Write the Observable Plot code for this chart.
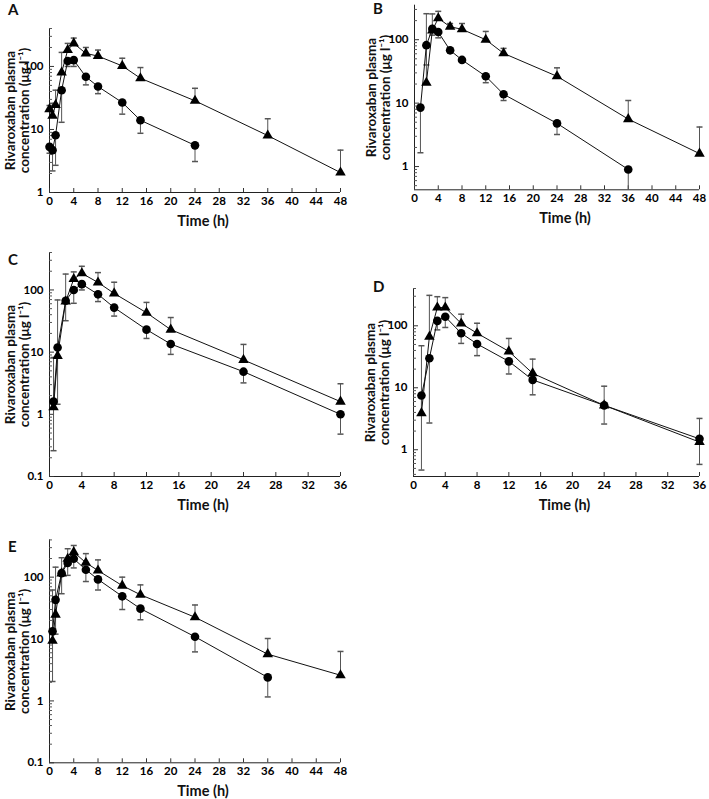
<!DOCTYPE html>
<html>
<head>
<meta charset="utf-8">
<script src="https://cdn.jsdelivr.net/npm/d3@7"></script>
<script src="https://cdn.jsdelivr.net/npm/@observablehq/plot@0.6"></script>
<style>
  body { margin: 0; background: #fff; }
  #wrap { position: relative; width: 709px; height: 799px; background: #fff; overflow: hidden; }
  .plt { position: absolute; }
  .lbl { position: absolute; font: bold 15px Lato, "Open Sans", sans-serif; color: #111; }
</style>
</head>
<body>
<div id="wrap"></div>
<script>
// ---------- Data (times in h, concentrations in µg/l) ----------
// Panel A
const tTriA = [0, 0.5, 1, 2, 3, 4, 6, 8, 12, 15, 24, 36, 48];
const vTriA = [21, 16.5, 24.5, 80, 182, 232, 161, 146, 102, 65, 28.5, 8.0, 2.07];
const eTriA = [24, 26, 42, 167, 232, 282, 200, 182, 135, 96, 45, 14.8, 4.7];
const tCircA = [0, 0.5, 1, 2, 3, 4, 6, 8, 12, 15, 24];
const vCircA = [5.3, 4.7, 8.1, 42, 122, 126, 68.5, 48, 26.8, 14, 5.6];
const eCircA = [4.2, 2.2, 2.7, 13, 100, 100, 51, 37, 17.5, 8.7, 3.1];
// Panel B
const tTriB = [2, 3, 4, 6, 8, 12, 15, 24, 36, 48];
const vTriB = [21, 140, 218, 160, 146, 100, 61, 26.5, 5.6, 1.6];
const eTriB = [257, 255, 280, 180, 180, 135, 73, 36, 11, 4.2];
const tCircB = [1, 2, 3, 4, 6, 8, 12, 15, 24, 36];
const vCircB = [8.5, 82, 148, 132, 68, 48, 26.5, 13.8, 4.8, 0.9];
const eCircB = [1.65, 40, 118, 107, 62, 44, 21, 11, 3.2, 0.43];
// Panel C
const tTriC = [0.5, 1, 2, 3, 4, 6, 8, 12, 15, 24, 36];
const vTriC = [1.3, 8.7, 65, 150, 185, 132, 88, 43, 23, 7.5, 1.6];
const eTriC = [8.2, 69, 180, 195, 240, 190, 133, 63, 36, 13.3, 3.1];
const tCircC = [0.5, 1, 2, 3, 4, 6, 8, 12, 15, 24, 36];
const vCircC = [1.6, 11.9, 67, 100, 124, 85, 52, 23, 13.5, 4.85, 1.0];
const eCircC = [0.26, 1.45, 32, 61, 100, 65, 38, 16.6, 9.2, 3.2, 0.48];
// Panel D
const tTriD = [1, 2, 3, 4, 6, 8, 12, 15, 24, 36];
const vTriD = [3.9, 66.5, 197, 197, 109, 76, 38.7, 17.1, 5.2, 1.33];
const eTriD = [47.7, 310, 295, 285, 154, 110, 62.5, 29, 10.6, 3.2];
const tCircD = [1, 2, 3, 4, 6, 8, 12, 15, 24, 36];
const vCircD = [7.5, 30, 120, 140, 76, 51, 26.7, 13.4, 5.2, 1.5];
const eCircD = [0.47, 2.7, 86, 94, 52, 33, 16.7, 7.7, 2.6, 0.58];
// Panel E
const tTriE = [0.5, 1, 2, 3, 4, 6, 8, 12, 15, 24, 36, 48];
const vTriE = [9.4, 24.8, 115, 198, 254, 171, 128, 73, 52, 22.5, 5.7, 2.6];
const eTriE = [62, 145, 206, 288, 325, 240, 190, 100, 75, 35.5, 10.2, 6.3];
const tCircE = [0.5, 1, 2, 3, 4, 6, 8, 12, 15, 24, 36];
const vCircE = [13.3, 43, 116, 169, 198, 132, 92, 49, 31, 10.9, 2.4];
const eCircE = [2.06, 12, 54, 107, 141, 85, 62, 30, 20.5, 6.2, 1.16];

const yLabel = "Rivaroxaban plasma\nconcentration (μg l⁻¹)";
const xLabel = "Time (h)";
const FONT = "Lato, 'Open Sans', sans-serif";

const capSymbol = {
  draw(context, size) {
    const w = Math.sqrt(size / Math.PI);
    context.moveTo(-w, 0);
    context.lineTo(w, 0);
  }
};

function panel(o) {
  const innerW = o.width - o.mL - o.mR;
  const innerH = o.height - o.mT - o.mB;
  const tri = o.tTri.map((t, i) => ({t, v: o.vTri[i], e: o.eTri[i]}));
  const circ = o.tCirc.map((t, i) => ({t, v: o.vCirc[i], e: o.eCirc[i]}));
  const xticks = d3.range(0, o.xmax + 1, 4);
  const [y0, y1] = o.ydomain;
  const minor = [];
  for (let d = Math.floor(Math.log10(y0)); d <= Math.ceil(Math.log10(y1)); d++) {
    for (let m = 2; m <= 9; m++) {
      const v = m * Math.pow(10, d);
      if (v >= y0 * 0.999 && v <= y1 * 1.001) minor.push(v);
    }
  }
  const errStroke = "#555";
  const chart = Plot.plot({
    width: o.width, height: o.height,
    marginLeft: o.mL, marginRight: o.mR, marginTop: o.mT, marginBottom: o.mB,
    style: {fontFamily: FONT, background: "transparent", overflow: "visible"},
    x: {domain: [0, o.xmax]},
    y: {type: "log", domain: o.ydomain},
    marks: [
      // axis lines
      Plot.ruleX([0], {stroke: "#222", strokeWidth: 1}),
      Plot.ruleY([y0], {stroke: "#222", strokeWidth: 1}),
      // inward ticks
      Plot.tickX(xticks, {x: d => d, insetTop: innerH - 4, stroke: "#333"}),
      Plot.tickY(o.yticks, {y: d => d, insetRight: innerW - 5, stroke: "#333"}),
      Plot.tickY(minor, {y: d => d, insetRight: innerW - 3, stroke: "#555"}),
      // tick labels
      Plot.axisX({ticks: xticks, tickSize: 0, tickPadding: 4, fontSize: 11.5, fontWeight: "bold", label: null}),
      Plot.axisY({ticks: o.yticks, tickSize: 0, tickPadding: 6, fontSize: 11.5, fontWeight: "bold", label: null, tickFormat: d => String(d)}),
      // axis titles
      Plot.text([yLabel], {frameAnchor: "left", rotate: -90, dx: o.ldx, fontSize: 13.5, fontWeight: "bold", lineHeight: 1.02, textAnchor: "middle", lineAnchor: "middle", fill: "#111"}),
      Plot.text([xLabel], {frameAnchor: "bottom", dy: 29, dx: 8, fontSize: 14.5, fontWeight: "bold", lineAnchor: "middle", fill: "#111"}),
      // error bars
      Plot.ruleX(tri, {x: "t", y1: "v", y2: "e", stroke: errStroke, strokeWidth: 1}),
      Plot.dot(tri, {x: "t", y: "e", symbol: capSymbol, r: 3, stroke: errStroke, fill: "none"}),
      Plot.ruleX(circ, {x: "t", y1: "v", y2: "e", stroke: errStroke, strokeWidth: 1}),
      Plot.dot(circ.filter(d => d.e > y0 * 1.001), {x: "t", y: "e", symbol: capSymbol, r: 3, stroke: errStroke, fill: "none"}),
      // lines
      Plot.line(tri, {x: "t", y: "v", stroke: "#111", strokeWidth: 1}),
      Plot.line(circ, {x: "t", y: "v", stroke: "#111", strokeWidth: 1}),
      // markers
      Plot.dot(tri, {x: "t", y: "v", symbol: "triangle", r: 3.9, fill: "#000", stroke: "none"}),
      Plot.dot(circ, {x: "t", y: "v", symbol: "circle", r: 4.3, fill: "#000", stroke: "none"})
    ]
  });
  chart.classList.add("plt");
  chart.style.left = o.left + "px";
  chart.style.top = o.top + "px";
  return chart;
}

const wrap = document.getElementById("wrap");
const panels = [
  {name: "A", lx: 8, ly: 0, left: 0, top: 0, width: 354, height: 230, mL: 49, mR: 14, mT: 28, mB: 38, ldx: -32, xmax: 48, ydomain: [1, 400], yticks: [1, 10, 100],
   tTri: tTriA, vTri: vTriA, eTri: eTriA, tCirc: tCircA, vCirc: vCircA, eCirc: eCircA},
  {name: "B", lx: 373, ly: -1, left: 355, top: 0, width: 354, height: 230, mL: 59, mR: 10, mT: 4.7, mB: 40.7, ldx: -36, xmax: 48, ydomain: [0.43, 350], yticks: [1, 10, 100],
   tTri: tTriB, vTri: vTriB, eTri: eTriB, tCirc: tCircB, vCirc: vCircB, eCirc: eCircB},
  {name: "C", lx: 8, ly: 250, left: 0, top: 245, width: 354, height: 270, mL: 49, mR: 14, mT: 7, mB: 39, ldx: -32, xmax: 36, ydomain: [0.1, 400], yticks: [0.1, 1, 10, 100],
   tTri: tTriC, vTri: vTriC, eTri: eTriC, tCirc: tCircC, vCirc: vCircC, eCirc: eCircC},
  {name: "D", lx: 373, ly: 277, left: 355, top: 270, width: 354, height: 245, mL: 58, mR: 10, mT: 18, mB: 39, ldx: -36, xmax: 36, ydomain: [0.37, 400], yticks: [1, 10, 100],
   tTri: tTriD, vTri: vTriD, eTri: eTriD, tCirc: tCircD, vCirc: vCircD, eCirc: eCircD},
  {name: "E", lx: 8, ly: 537, left: 0, top: 530, width: 354, height: 269, mL: 49, mR: 14, mT: 9.4, mB: 36.7, ldx: -32, xmax: 48, ydomain: [0.1, 400], yticks: [0.1, 1, 10, 100],
   tTri: tTriE, vTri: vTriE, eTri: eTriE, tCirc: tCircE, vCirc: vCircE, eCirc: eCircE}
];
for (const p of panels) {
  wrap.appendChild(panel(p));
  const l = document.createElement("div");
  l.className = "lbl";
  l.textContent = p.name;
  l.style.left = p.lx + "px";
  l.style.top = p.ly + "px";
  wrap.appendChild(l);
}
</script>
</body>
</html>
